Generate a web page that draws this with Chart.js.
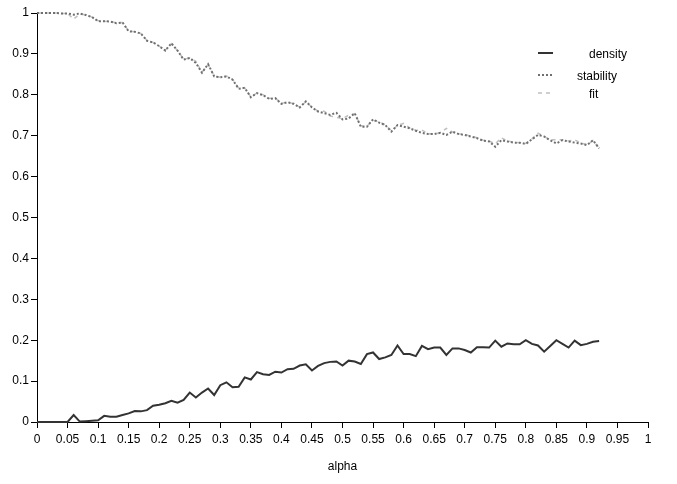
<!DOCTYPE html>
<html>
<head>
<meta charset="utf-8">
<script src="https://cdn.jsdelivr.net/npm/chart.js@4"></script>
<style>
  html, body { margin: 0; padding: 0; background: #fff; }
  #wrap { width: 677px; height: 484px; }
</style>
</head>
<body>
<div id="wrap"><canvas id="grafic"></canvas></div>
<script>
// alpha values (x), one point per 0.01
const ALPHA = [
  0.00, 0.01, 0.02, 0.03, 0.04, 0.05, 0.06, 0.07, 0.08, 0.09,
  0.10, 0.11, 0.12, 0.13, 0.14, 0.15, 0.16, 0.17, 0.18, 0.19,
  0.20, 0.21, 0.22, 0.23, 0.24, 0.25, 0.26, 0.27, 0.28, 0.29,
  0.30, 0.31, 0.32, 0.33, 0.34, 0.35, 0.36, 0.37, 0.38, 0.39,
  0.40, 0.41, 0.42, 0.43, 0.44, 0.45, 0.46, 0.47, 0.48, 0.49,
  0.50, 0.51, 0.52, 0.53, 0.54, 0.55, 0.56, 0.57, 0.58, 0.59,
  0.60, 0.61, 0.62, 0.63, 0.64, 0.65, 0.66, 0.67, 0.68, 0.69,
  0.70, 0.71, 0.72, 0.73, 0.74, 0.75, 0.76, 0.77, 0.78, 0.79,
  0.80, 0.81, 0.82, 0.83, 0.84, 0.85, 0.86, 0.87, 0.88, 0.89,
  0.90, 0.91, 0.92
];

const DENSITY = [
  0.000, 0.000, 0.000, 0.000, 0.000, 0.000, 0.017, 0.001, 0.002, 0.003,
  0.004, 0.015, 0.013, 0.013, 0.017, 0.021, 0.027, 0.026, 0.029, 0.040,
  0.042, 0.046, 0.052, 0.047, 0.054, 0.072, 0.060, 0.072, 0.082, 0.066,
  0.090, 0.097, 0.085, 0.086, 0.109, 0.104, 0.122, 0.117, 0.115, 0.123,
  0.121, 0.129, 0.130, 0.138, 0.141, 0.126, 0.137, 0.144, 0.147, 0.148,
  0.138, 0.150, 0.148, 0.142, 0.166, 0.170, 0.154, 0.158, 0.164, 0.187,
  0.166, 0.166, 0.161, 0.186, 0.178, 0.182, 0.182, 0.164, 0.180, 0.180,
  0.176, 0.170, 0.183, 0.183, 0.182, 0.199, 0.184, 0.192, 0.190, 0.190,
  0.200, 0.191, 0.187, 0.172, 0.186, 0.200, 0.191, 0.182, 0.199, 0.188,
  0.191, 0.196, 0.198
];

const STABILITY = [
  1.000, 1.000, 1.000, 1.000, 0.999, 0.999, 0.996, 0.999, 0.995, 0.990,
  0.980, 0.980, 0.979, 0.975, 0.977, 0.955, 0.954, 0.950, 0.932, 0.928,
  0.919, 0.908, 0.926, 0.908, 0.886, 0.890, 0.878, 0.854, 0.875, 0.845,
  0.843, 0.845, 0.837, 0.815, 0.817, 0.794, 0.804, 0.799, 0.790, 0.792,
  0.778, 0.782, 0.778, 0.769, 0.784, 0.769, 0.759, 0.755, 0.751, 0.756,
  0.740, 0.742, 0.755, 0.722, 0.722, 0.740, 0.732, 0.726, 0.710, 0.726,
  0.722, 0.718, 0.712, 0.707, 0.704, 0.704, 0.707, 0.702, 0.710, 0.704,
  0.702, 0.698, 0.694, 0.688, 0.686, 0.673, 0.689, 0.686, 0.683, 0.683,
  0.680, 0.691, 0.702, 0.698, 0.689, 0.681, 0.689, 0.686, 0.683, 0.681,
  0.677, 0.689, 0.669
];

const FIT = [
  1.000, 1.000, 1.000, 1.000, 0.999, 0.999, 0.985, 0.998, 0.995, 0.990,
  0.981, 0.980, 0.979, 0.976, 0.977, 0.956, 0.954, 0.950, 0.933, 0.928,
  0.919, 0.909, 0.925, 0.908, 0.887, 0.890, 0.882, 0.855, 0.874, 0.846,
  0.843, 0.846, 0.838, 0.816, 0.817, 0.795, 0.804, 0.800, 0.791, 0.792,
  0.779, 0.782, 0.778, 0.770, 0.783, 0.770, 0.760, 0.760, 0.748, 0.745,
  0.742, 0.750, 0.754, 0.724, 0.723, 0.738, 0.733, 0.727, 0.712, 0.725,
  0.730, 0.719, 0.713, 0.714, 0.705, 0.704, 0.707, 0.718, 0.709, 0.705,
  0.703, 0.699, 0.695, 0.689, 0.687, 0.680, 0.695, 0.687, 0.684, 0.683,
  0.681, 0.692, 0.706, 0.698, 0.690, 0.690, 0.690, 0.687, 0.690, 0.682,
  0.678, 0.688, 0.670
];

const SERIES_NAMES = ['density', 'stability', 'fit'];
const X_TICK_STEP = 0.05;
const Y_TICK_STEP = 0.1;

const FONT = { family: 'Liberation Sans, Arial, sans-serif', size: 12 };

function punts(valors) {
  return ALPHA.map((a, i) => ({ x: a, y: valors[i] }));
}

function formatTick(v) {
  return String(Number(v.toFixed(2)));
}

// legend drawn by hand, in the top right corner of the plot
const llegenda = {
  id: 'llegenda',
  afterDraw(chart) {
    const ctx = chart.ctx;
    const files = [
      { y: 53, tx: 589 },
      { y: 75, tx: 577 },
      { y: 93, tx: 589 }
    ];
    ctx.save();
    chart.data.datasets.forEach((ds, i) => {
      const f = files[i];
      ctx.beginPath();
      ctx.strokeStyle = ds.borderColor;
      ctx.lineWidth = ds.borderWidth;
      ctx.setLineDash(ds.borderDash || []);
      ctx.moveTo(538, f.y);
      ctx.lineTo(553, f.y);
      ctx.stroke();
      ctx.setLineDash([]);
      ctx.fillStyle = '#000';
      ctx.font = FONT.size + 'px ' + FONT.family;
      ctx.textBaseline = 'middle';
      ctx.textAlign = 'left';
      ctx.fillText(ds.label, f.tx, f.y + 2);
    });
    ctx.restore();
  }
};

const ctx = document.getElementById('grafic').getContext('2d');
new Chart(ctx, {
  type: 'line',
  data: {
    datasets: [
      { label: SERIES_NAMES[0], data: punts(DENSITY), borderColor: '#333333', borderWidth: 2, pointRadius: 0, tension: 0, clip: false },
      { label: SERIES_NAMES[1], data: punts(STABILITY), borderColor: '#707070', borderWidth: 2, borderDash: [2, 2], pointRadius: 0, tension: 0, clip: false },
      { label: SERIES_NAMES[2], data: punts(FIT), borderColor: '#c0c0c0', borderWidth: 1.5, borderDash: [4, 4], pointRadius: 0, tension: 0, clip: false }
    ]
  },
  options: {
    responsive: true,
    maintainAspectRatio: false,
    animation: false,
    layout: { padding: { top: 13, right: 29, left: 0, bottom: 0 } },
    plugins: { legend: { display: false }, tooltip: { enabled: false } },
    scales: {
      x: {
        type: 'linear',
        min: 0, max: 1,
        afterFit: s => { s.height = 62; },
        border: { display: true, color: '#000', width: 1 },
        grid: { drawOnChartArea: false, drawTicks: true, tickLength: 6, color: '#000' },
        ticks: { stepSize: X_TICK_STEP, autoSkip: false, maxRotation: 0, color: '#000', font: FONT, padding: 4, callback: formatTick },
        title: { display: true, text: 'alpha', color: '#000', font: FONT, padding: { top: 0, bottom: 10 } }
      },
      y: {
        type: 'linear',
        min: 0, max: 1,
        afterFit: s => { s.width = 37; },
        border: { display: true, color: '#000', width: 1 },
        grid: { drawOnChartArea: false, drawTicks: true, tickLength: 6, color: '#000' },
        ticks: { stepSize: Y_TICK_STEP, color: '#000', font: FONT, padding: 2, callback: formatTick }
      }
    }
  },
  plugins: [llegenda]
});
</script>
</body>
</html>
